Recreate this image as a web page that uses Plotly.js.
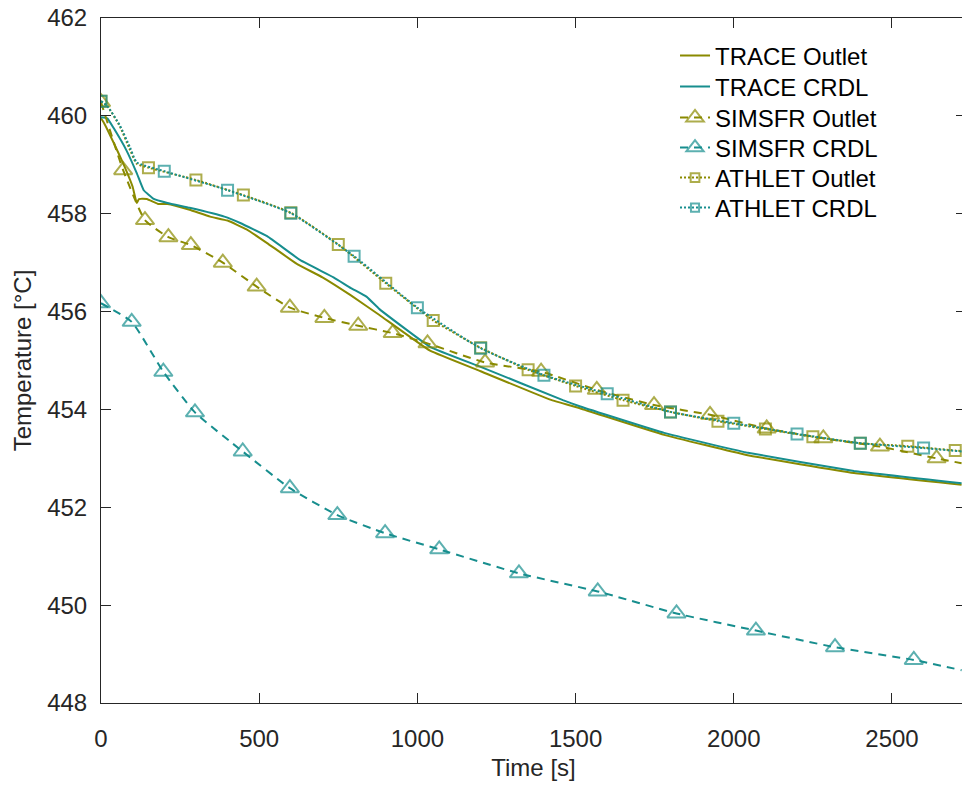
<!DOCTYPE html>
<html>
<head>
<meta charset="utf-8">
<script src="https://cdn.plot.ly/plotly-3.0.1.min.js"></script>
<style>
  html, body { margin: 0; padding: 0; overflow: hidden; background: #fff; }
  #chart { width: 966px; height: 787px; }
</style>
</head>
<body>
<div id="chart"></div>
<script>
// ---- Data ----
const traceOutletTime = [0, 10, 40, 70, 100, 113, 120, 145, 180, 210, 280, 345, 400, 460, 525, 620, 700, 790, 880, 1040, 1200, 1420, 1515, 1780, 2040, 2380, 2720];
const traceOutletTemp = [459.95, 459.85, 459.45, 459.03, 458.55, 458.22, 458.30, 458.30, 458.20, 458.20, 458.08, 457.94, 457.86, 457.68, 457.40, 456.97, 456.70, 456.33, 455.93, 455.20, 454.78, 454.20, 454.02, 453.48, 453.07, 452.70, 452.46];

const traceCrdlTime = [0, 20, 40, 80, 113, 135, 165, 210, 280, 390, 440, 525, 630, 735, 790, 840, 880, 1040, 1200, 1460, 1515, 1780, 2040, 2380, 2720];
const traceCrdlTemp = [459.97, 459.95, 459.75, 459.30, 458.83, 458.48, 458.31, 458.22, 458.12, 457.94, 457.81, 457.54, 457.05, 456.70, 456.48, 456.30, 456.05, 455.28, 454.87, 454.19, 454.06, 453.52, 453.12, 452.74, 452.49];

const simOutletTime = [0, 70, 139, 213, 284, 385, 492, 597, 706, 813, 922, 1032, 1214, 1391, 1567, 1748, 1925, 2104, 2283, 2462, 2641, 2720];
const simOutletTemp = [460.28, 458.89, 457.87, 457.52, 457.36, 457.00, 456.51, 456.08, 455.87, 455.71, 455.56, 455.35, 454.96, 454.77, 454.40, 454.09, 453.89, 453.61, 453.41, 453.24, 453.00, 452.90];
const simOutletMark = [1, 1, 1, 1, 1, 1, 1, 1, 1, 1, 1, 1, 1, 1, 1, 1, 1, 1, 1, 1, 1, 0];

const simCrdlTime = [0, 97, 197, 297, 448, 597, 747, 898, 1069, 1321, 1570, 1819, 2070, 2320, 2569, 2720];
const simCrdlTemp = [456.17, 455.79, 454.77, 453.94, 453.14, 452.39, 451.84, 451.47, 451.14, 450.65, 450.28, 449.83, 449.48, 449.14, 448.88, 448.67];
const simCrdlMark = [1, 1, 1, 1, 1, 1, 1, 1, 1, 1, 1, 1, 1, 1, 1, 0];

const athOutletTime = [0, 20, 60, 92, 113, 150, 300, 450, 600, 750, 900, 1050, 1200, 1350, 1500, 1650, 1800, 1950, 2100, 2250, 2400, 2550, 2700, 2720];
const athOutletTemp = [460.30, 460.20, 459.78, 459.30, 459.02, 458.94, 458.69, 458.38, 458.02, 457.37, 456.58, 455.82, 455.26, 454.81, 454.48, 454.19, 453.95, 453.76, 453.60, 453.44, 453.31, 453.25, 453.16, 453.15];
const athOutletMark = [1, 0, 0, 0, 0, 1, 1, 1, 1, 1, 1, 1, 1, 1, 1, 1, 1, 1, 1, 1, 1, 1, 1, 0];

const athCrdlTime = [0, 20, 60, 92, 113, 200, 400, 600, 800, 1000, 1200, 1400, 1600, 1800, 2000, 2200, 2400, 2600, 2720];
const athCrdlTemp = [460.30, 460.20, 459.80, 459.35, 459.05, 458.87, 458.48, 458.01, 457.13, 456.08, 455.25, 454.70, 454.32, 453.95, 453.72, 453.50, 453.31, 453.21, 453.14];
const athCrdlMark = [1, 0, 0, 0, 0, 1, 1, 1, 1, 1, 1, 1, 1, 1, 1, 1, 1, 1, 0];

const seriesNames = ['TRACE Outlet', 'TRACE CRDL', 'SIMSFR Outlet', 'SIMSFR CRDL', 'ATHLET Outlet', 'ATHLET CRDL'];
const xTickVals = [0, 500, 1000, 1500, 2000, 2500];
const yTickVals = [448, 450, 452, 454, 456, 458, 460, 462];

// ---- Styles ----
const OLIVE = '#8a8a00';
const TEAL = '#178e8e';
const FONT = '"Liberation Sans", Arial, sans-serif';
const TRI = 16, SQ = 11;

function sizes(mask, s) { return mask.map(m => m ? s : 0); }

const traces = [
  { x: traceOutletTime, y: traceOutletTemp, name: seriesNames[0], mode: 'lines', legend: 'legend',
    line: { color: OLIVE, width: 2, shape: 'spline', smoothing: 0.3 } },
  { x: traceCrdlTime, y: traceCrdlTemp, name: seriesNames[1], mode: 'lines', legend: 'legend2',
    line: { color: TEAL, width: 2, shape: 'spline', smoothing: 0.3 } },
  { x: simOutletTime, y: simOutletTemp, name: seriesNames[2], mode: 'lines+markers', legend: 'legend3',
    line: { color: OLIVE, width: 2, dash: '8px,6px', shape: 'spline', smoothing: 0.5 },
    marker: { symbol: 'triangle-up-open', size: sizes(simOutletMark, TRI), color: OLIVE, line: { width: 2, color: OLIVE } } },
  { x: simCrdlTime, y: simCrdlTemp, name: seriesNames[3], mode: 'lines+markers', legend: 'legend4',
    line: { color: TEAL, width: 2, dash: '8px,6px', shape: 'spline', smoothing: 0.5 },
    marker: { symbol: 'triangle-up-open', size: sizes(simCrdlMark, TRI), color: TEAL, line: { width: 2, color: TEAL } } },
  { x: athOutletTime, y: athOutletTemp, name: seriesNames[4], mode: 'lines+markers', legend: 'legend5',
    line: { color: OLIVE, width: 2, dash: '2px,2px', shape: 'spline', smoothing: 0.5 },
    marker: { symbol: 'square-open', size: sizes(athOutletMark, SQ), color: OLIVE, line: { width: 2, color: OLIVE } } },
  { x: athCrdlTime, y: athCrdlTemp, name: seriesNames[5], mode: 'lines+markers', legend: 'legend6',
    line: { color: TEAL, width: 2, dash: '2px,2px', shape: 'spline', smoothing: 0.5 },
    marker: { symbol: 'square-open', size: sizes(athCrdlMark, SQ), color: TEAL, line: { width: 2, color: TEAL } } }
];

const axisCommon = {
  showgrid: false, zeroline: false, showline: true, mirror: 'ticks',
  linecolor: '#262626', linewidth: 1, ticks: 'inside', ticklen: 10, tickwidth: 1,
  tickcolor: '#262626', tickfont: { family: FONT, size: 24, color: '#262626' }
};

// one single-entry legend per row so the row spacing matches the reference
const legendRowsY = [0.9445, 0.8993, 0.8540, 0.8102, 0.7664, 0.7226];
function legendAt(y) {
  return {
    x: 0.6636, xanchor: 'left', y: y, yanchor: 'middle',
    bgcolor: 'rgba(255,255,255,0)', borderwidth: 0,
    font: { family: FONT, size: 24, color: '#000000' }, itemsizing: 'trace'
  };
}

const layout = {
  width: 966, height: 787,
  margin: { l: 101, r: 0, t: 18, b: 84 },
  paper_bgcolor: '#ffffff', plot_bgcolor: '#ffffff',
  font: { family: FONT, size: 24, color: '#262626' },
  showlegend: true,
  legend: legendAt(legendRowsY[0]),
  legend2: legendAt(legendRowsY[1]),
  legend3: legendAt(legendRowsY[2]),
  legend4: legendAt(legendRowsY[3]),
  legend5: legendAt(legendRowsY[4]),
  legend6: legendAt(legendRowsY[5]),
  xaxis: Object.assign({}, axisCommon, {
    range: [0, 2734], tickvals: xTickVals, ticklabelstandoff: 14,
    title: { text: 'Time [s]', font: { family: FONT, size: 24, color: '#262626' }, standoff: 8 }
  }),
  yaxis: Object.assign({}, axisCommon, {
    range: [448, 462], tickvals: yTickVals, ticklabelstandoff: 8,
    title: { text: 'Temperature [°C]', font: { family: FONT, size: 24, color: '#262626' }, standoff: 8 }
  })
};

Plotly.newPlot('chart', traces, layout, { displayModeBar: false, staticPlot: true });
</script>
</body>
</html>
